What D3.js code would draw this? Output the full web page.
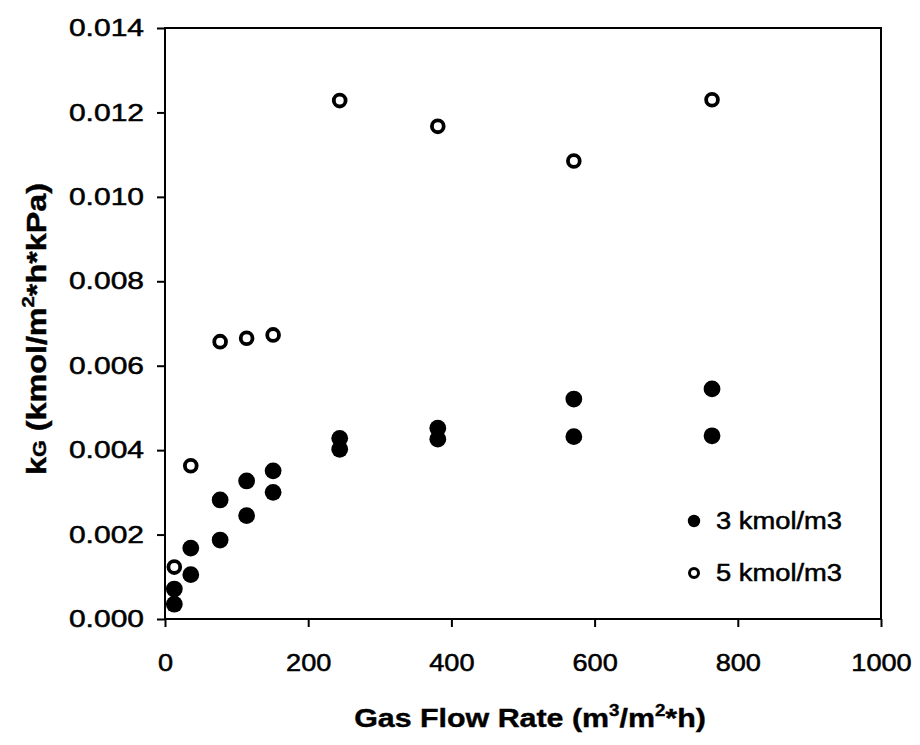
<!DOCTYPE html>
<html>
<head>
<meta charset="utf-8">
<script src="https://cdn.jsdelivr.net/npm/d3@7"></script>
<style>
  html, body { margin: 0; padding: 0; background: #fff; }
  svg { display: block; font-family: "Liberation Sans", Arial, sans-serif; }
</style>
</head>
<body>
<svg id="chart" width="920" height="745"></svg>
<script>
// Gas flow rate (m3/m2*h) and mass transfer coefficient kG
const flow3 = [13, 13, 36, 36, 77, 77, 114, 114, 151, 151, 244, 244, 381, 381, 571, 571, 764, 764];
const kG3   = [0.00035, 0.00071, 0.00105, 0.00168, 0.00187, 0.00282, 0.00245, 0.00327,
               0.00300, 0.00351, 0.00402, 0.00428, 0.00426, 0.00452, 0.00432, 0.00521,
               0.00434, 0.00545];
const flow5 = [13, 36, 77, 114, 151, 244, 381, 571, 764];
const kG5   = [0.00123, 0.00363, 0.00657, 0.00665, 0.00673, 0.01228, 0.01167, 0.01085, 0.01230];

const seriesNames = ["3 kmol/m3", "5 kmol/m3"];
const xTicks = [0, 200, 400, 600, 800, 1000];
const yTicks = [0, 0.002, 0.004, 0.006, 0.008, 0.010, 0.012, 0.014];

const svg = d3.select("#chart");
const plotLeft = 165, plotRight = 881, plotTop = 28, plotBottom = 619;

const x = d3.scaleLinear().domain([0, 1000]).range([plotLeft, plotRight]);
const y = d3.scaleLinear().domain([0, 0.014]).range([plotBottom, plotTop]);

// horizontally stretch a text element around its anchor to a given width
function fitWidth(sel, target, base) {
  const w = sel.node().getBBox().width;
  sel.attr("transform", base + ` scale(${target / w},1)`);
}

// frame
svg.append("rect")
  .attr("x", plotLeft).attr("y", plotTop)
  .attr("width", plotRight - plotLeft).attr("height", plotBottom - plotTop)
  .attr("fill", "none").attr("stroke", "#000").attr("stroke-width", 2);

// x axis
const xStretch = 1.18;
const gx = svg.append("g").attr("transform", `translate(0,${plotBottom})`)
  .call(d3.axisBottom(x).tickValues(xTicks).tickSize(8).tickSizeOuter(0).tickFormat(d3.format("d")));
gx.select(".domain").remove();
gx.selectAll(".tick line").attr("stroke", "#000").attr("stroke-width", 2);
gx.selectAll(".tick text")
  .attr("dy", null).attr("y", 52)
  .attr("font-size", 23).attr("fill", "#000")
  .attr("stroke", "#000").attr("stroke-width", 0.5)
  .attr("transform", `scale(${xStretch},1)`);

// y axis
const yStretch = 1.25;
const gy = svg.append("g").attr("transform", `translate(${plotLeft},0)`)
  .call(d3.axisLeft(y).tickValues(yTicks).tickSize(8).tickSizeOuter(0).tickFormat(d3.format(".3f")));
gy.select(".domain").remove();
gy.selectAll(".tick line").attr("stroke", "#000").attr("stroke-width", 2);
gy.selectAll(".tick text")
  .attr("x", -21 / yStretch)
  .attr("font-size", 24).attr("fill", "#000")
  .attr("stroke", "#000").attr("stroke-width", 0.5)
  .attr("transform", `scale(${yStretch},1)`);

// 3 kmol/m3: filled circles
svg.append("g").selectAll("circle")
  .data(flow3.map((f, i) => [f, kG3[i]]))
  .join("circle")
  .attr("cx", d => x(d[0])).attr("cy", d => y(d[1]))
  .attr("r", 8.4).attr("fill", "#000");

// 5 kmol/m3: open circles
svg.append("g").selectAll("circle")
  .data(flow5.map((f, i) => [f, kG5[i]]))
  .join("circle")
  .attr("cx", d => x(d[0])).attr("cy", d => y(d[1]))
  .attr("r", 5.9).attr("fill", "#fff").attr("stroke", "#000").attr("stroke-width", 3.8);

// legend
const legend = svg.append("g");
legend.append("circle").attr("cx", 694).attr("cy", 521).attr("r", 6.2).attr("fill", "#000");
legend.append("circle").attr("cx", 694).attr("cy", 573).attr("r", 4.5)
  .attr("fill", "#fff").attr("stroke", "#000").attr("stroke-width", 3);
[529, 581].forEach((by, i) => {
  const t = legend.append("text")
    .attr("x", 0).attr("y", 0)
    .attr("font-size", 23).attr("fill", "#000")
    .attr("stroke", "#000").attr("stroke-width", 0.5)
    .text(seriesNames[i]);
  fitWidth(t, 126, `translate(716,${by})`);
});

// x axis title
const xt = svg.append("text")
  .attr("text-anchor", "middle").attr("font-size", 26).attr("font-weight", "bold").attr("fill", "#000")
  .attr("stroke", "#000").attr("stroke-width", 0.4);
xt.append("tspan").text("Gas Flow Rate (m");
xt.append("tspan").attr("font-size", 16).attr("dy", -11).text("3");
xt.append("tspan").attr("dy", 11).text("/m");
xt.append("tspan").attr("font-size", 16).attr("dy", -11).text("2");
xt.append("tspan").attr("dy", 11).text("*h)");
fitWidth(xt, 352, "translate(530,727)");

// y axis title
const yt = svg.append("text")
  .attr("text-anchor", "middle").attr("font-size", 27).attr("font-weight", "bold").attr("fill", "#000")
  .attr("stroke", "#000").attr("stroke-width", 0.4);
yt.append("tspan").text("k");
yt.append("tspan").attr("font-size", 18).text("G");
yt.append("tspan").text(" (kmol/m");
yt.append("tspan").attr("font-size", 17).attr("dy", -12).text("2");
yt.append("tspan").attr("dy", 12).text("*h*kPa)");
fitWidth(yt, 292, "translate(46,329) rotate(-90)");
</script>
</body>
</html>
